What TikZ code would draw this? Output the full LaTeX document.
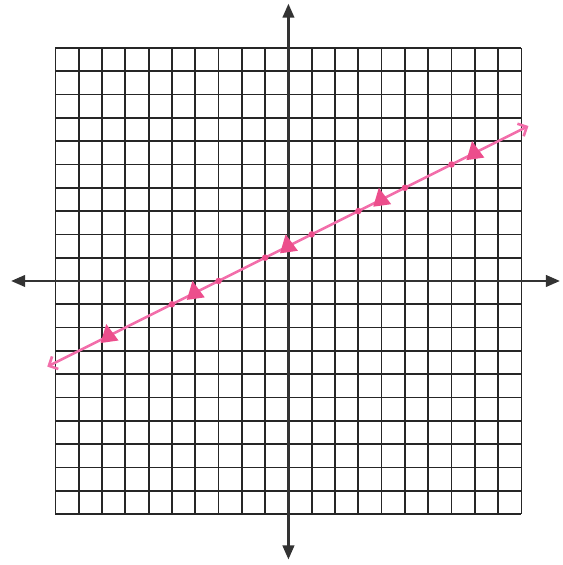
\documentclass[tikz,border=0pt]{standalone}
\usetikzlibrary{arrows.meta}
\definecolor{penpink}{RGB}{242,110,170}
\definecolor{markpink}{RGB}{236,78,140}

\begin{document}
\begin{tikzpicture}[x=1cm, y=1cm,
        axis/.style={line width=2.6pt, black!80,
            {Triangle[length=0.6cm,width=0.5cm]}-{Triangle[length=0.6cm,width=0.5cm]}},
        pen/.style={line width=3.2pt, penpink, line cap=round,
            {Straight Barb[length=0.3cm,width=0.6cm]}-{Straight Barb[length=0.3cm,width=0.6cm]}}]
        \useasboundingbox (-12.38,-12.19) rectangle (11.78,12.06);
        \draw[line width=2.1pt, black!85] (-10,-10) grid (10,10);

        \coordinate (xleft) at (-11.9,0);
        \coordinate (xright) at (11.65,0);
        \coordinate (ytop) at (0,11.9);
        \coordinate (ybottom) at (0,-11.95);
        \draw[axis] (xleft) -- (xright);
        \draw[axis] (ybottom) -- (ytop);

        % the line y = x/2 + 3/2
        \coordinate (lstart) at (-10.35,-3.675);
        \coordinate (lend) at (10.3,6.65);
        \draw[pen] (lstart) -- (lend);

        \foreach \x in {-5,-3,...,7}
        \fill[markpink] (\x,{\x/2+1.5}) circle (0.14);

        \foreach \x in {-7.7,-4,0,4,8}
        \fill[markpink, shift={(\x,{\x/2+1.5})}, scale=1.2] (-0.1,0.42) -- (-0.3,-0.26) -- (0.34,-0.17) -- cycle;
\end{tikzpicture}
\end{document}
